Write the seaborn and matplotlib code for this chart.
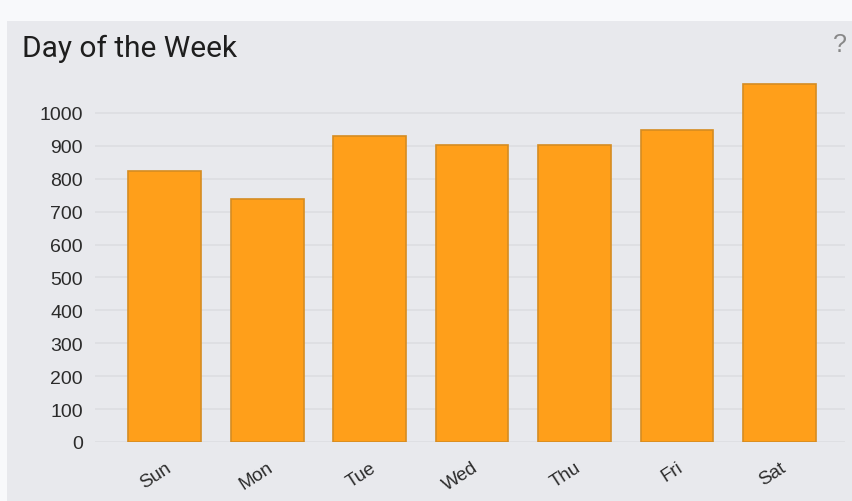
import pandas as pd
import seaborn as sns
import matplotlib.pyplot as plt
from matplotlib.patches import Rectangle

# datos
days = ["Sun", "Mon", "Tue", "Wed", "Thu", "Fri", "Sat"]
counts = [824, 739, 930, 903, 903, 948, 1088]

df = pd.DataFrame({"day": days, "count": counts})

panel_bg = "#e8e9ed"
sns.set_theme(style="whitegrid")
plt.rcParams['font.family'] = ['Liberation Sans', 'DejaVu Sans']

fig = plt.figure(figsize=(8.53, 5.02), dpi=100, facecolor=panel_bg)
# franja clara arriba y a la izquierda
fig.patches.append(Rectangle((0, 480 / 502), 1, 1, transform=fig.transFigure,
                             facecolor="#f8f9fb", edgecolor="none", zorder=-1))
fig.patches.append(Rectangle((0, 0), 7 / 853, 1, transform=fig.transFigure,
                             facecolor="#f8f9fb", edgecolor="none", zorder=-1))

ax = fig.add_axes([95 / 853, 59 / 502, 750 / 853, 362 / 502])
ax.set_facecolor(panel_bg)

sns.barplot(data=df, x="day", y="count", color="#ff9f1a", saturation=1,
            width=0.71, edgecolor="#d58c22", linewidth=1.2, ax=ax, zorder=3)

ax.set_xlim(-0.68, 6.64)
ax.set_ylim(0, 1100)
ax.set_yticks(range(0, 1001, 100))
ax.grid(axis="y", color="#dcdde2", linewidth=1.2, zorder=0)
ax.grid(axis="x", visible=False)
for s in ax.spines.values():
    s.set_visible(False)
ax.set_xlabel("")
ax.set_ylabel("")
ax.tick_params(axis="y", length=0, pad=8.6, labelsize=14, labelcolor="#2b2b2b")
ax.tick_params(axis="x", length=0, pad=12, labelsize=13.5, labelcolor="#2b2b2b")
for lbl in ax.get_xticklabels():
    lbl.set_rotation(33)
    lbl.set_ha("right")
    lbl.set_rotation_mode("anchor")

fig.text(22 / 853, 1 - 57 / 502, "Day of the Week", fontsize=21.5,
         color="#1e1e1e", va="baseline", ha="left", family=["Roboto", "DejaVu Sans"])
fig.text(840 / 853, 1 - 45 / 502, "?", fontsize=18, color="#888888",
         va="center", ha="center")

plt.savefig("out.png", dpi=100, facecolor=fig.get_facecolor())
